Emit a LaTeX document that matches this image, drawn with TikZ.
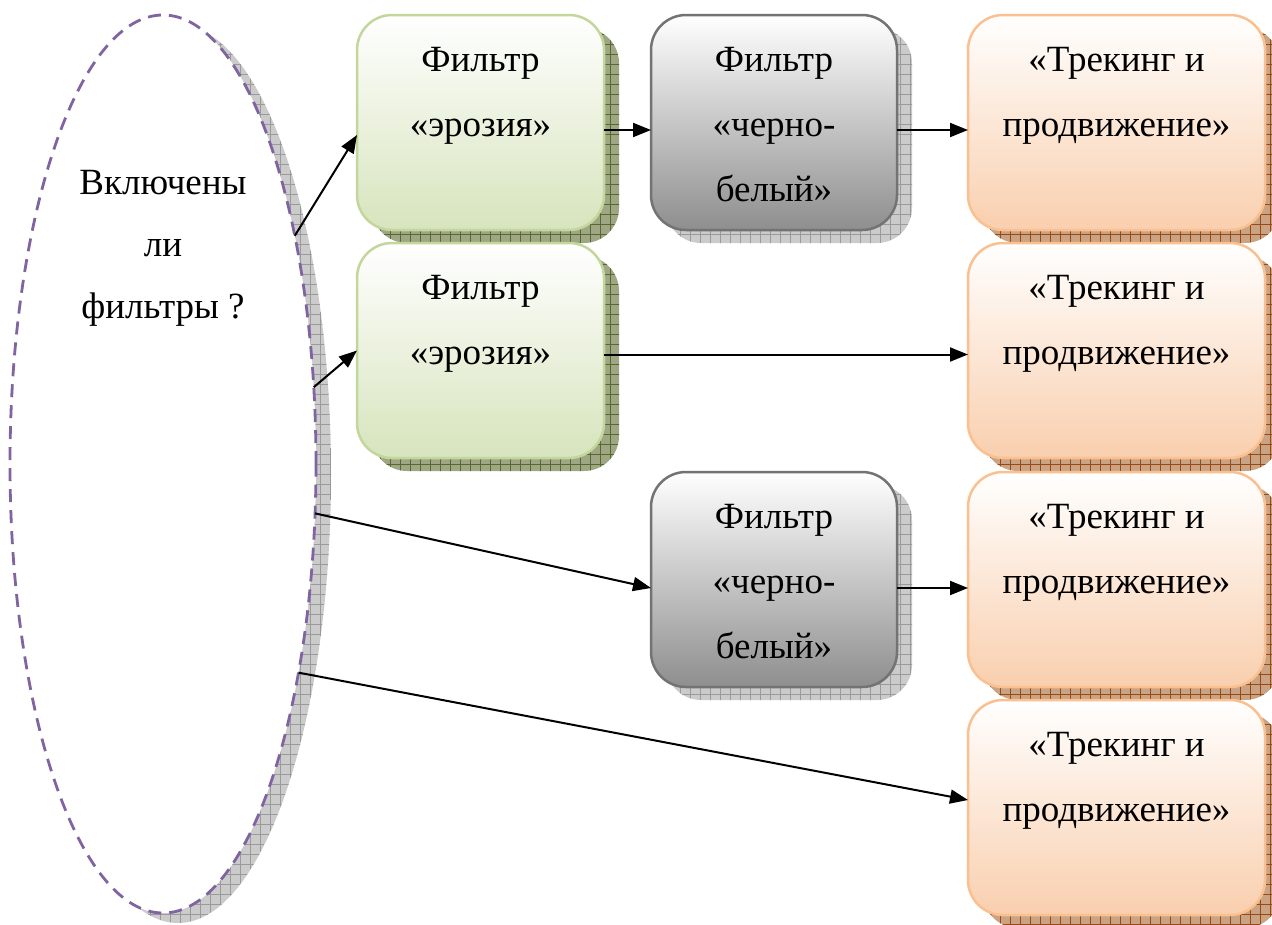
\documentclass[tikz,border=0pt]{standalone}
\usepackage{fontspec}
\setmainfont{Liberation Serif}
\usetikzlibrary{shapes.geometric,patterns.meta,arrows.meta,shadows}

\definecolor{grnfill}{HTML}{D7E4BD}
\definecolor{grnline}{HTML}{C3D69B}
\definecolor{gryfill}{HTML}{8E8E8E}
\definecolor{gryline}{HTML}{737373}
\definecolor{orgfill}{HTML}{F9CFAE}
\definecolor{orgline}{HTML}{FAC090}
\definecolor{purp}{HTML}{8064A2}
\definecolor{grnshbase}{HTML}{9EA684}
\definecolor{grnshgrid}{HTML}{566A30}
\definecolor{gryshbase}{HTML}{CBCBCB}
\definecolor{gryshgrid}{HTML}{9A9A9A}
\definecolor{orgshbase}{HTML}{C9A383}
\definecolor{orgshgrid}{HTML}{984A12}

% text of a box: top-aligned lines at double spacing
\newcommand\cellbox[2]{\parbox[c][215pt][t]{#1}{\centering
  \fontsize{37pt}{65pt}\selectfont\rule{0pt}{56pt}#2}}

\tikzset{
  gridshadow/.style 2 args={general shadow={shadow xshift=15pt, shadow yshift=-13pt,
      fill=#1, postaction={pattern={Hatch[angle=0,distance=10pt,line width=0.7pt]}, pattern color=#2}}},
  box/.style={rectangle, rounded corners=35pt, anchor=north west,
      inner sep=0pt, outer sep=0pt, line width=2.5pt},
  greenbox/.style={box, draw=grnline, top color=white, bottom color=grnfill,
      gridshadow={grnshbase}{grnshgrid}},
  graybox/.style={box, draw=gryline, top color=white, bottom color=gryfill,
      gridshadow={gryshbase}{gryshgrid}},
  orangebox/.style={box, draw=orgline, top color=white, bottom color=orgfill,
      gridshadow={orgshbase}{orgshgrid}},
  question/.style={ellipse, draw=purp, line width=2.8pt, dash pattern=on 13pt off 8pt,
      fill=white, minimum width=306pt, minimum height=898pt, inner sep=0pt, outer sep=0pt,
      general shadow={shadow xshift=15pt, shadow yshift=-10pt, fill=gryshbase,
        postaction={pattern={Hatch[angle=0,distance=10pt,line width=0.7pt]}, pattern color=gryshgrid}}},
  qtext/.style={align=center, font=\fontsize{37pt}{62pt}\selectfont},
  flow/.style={line width=2pt, -{Triangle[length=18pt,width=14pt]}},
}

\begin{document}
\begin{tikzpicture}[x=1pt,y=-1pt]
\useasboundingbox (0,0) rectangle (1272,924);

% decision ellipse and its question
\node[question] (q) at (163,464) {};
\node[qtext] (qt) at (163,248) {Включены\\ли\\фильтры ?};

% processing boxes
\node[greenbox]  (e1) at (357,15)  {\cellbox{247pt}{Фильтр\\«эрозия»}};
\node[graybox]   (b1) at (651,15)  {\cellbox{246pt}{Фильтр\\«черно-\\белый»}};
\node[orangebox] (t1) at (968,15)  {\cellbox{297pt}{«Трекинг и\\продвижение»}};
\node[greenbox]  (e2) at (357,243) {\cellbox{247pt}{Фильтр\\«эрозия»}};
\node[orangebox] (t2) at (968,243) {\cellbox{297pt}{«Трекинг и\\продвижение»}};
\node[graybox]   (b2) at (651,472) {\cellbox{246pt}{Фильтр\\«черно-\\белый»}};
\node[orangebox] (t3) at (968,472) {\cellbox{297pt}{«Трекинг и\\продвижение»}};
\node[orangebox] (t4) at (968,700) {\cellbox{297pt}{«Трекинг и\\продвижение»}};

% connectors
\draw[flow] (q.60.8) -- ([yshift=-12.5pt]e1.west);
\draw[flow] (q.27.5) -- (e2.west);
\draw[flow] ([yshift=-7.5pt]e1.east) -- ([yshift=-7.5pt]b1.west);
\draw[flow] ([yshift=-7.5pt]b1.east) -- ([yshift=-7.5pt]t1.west);
\draw[flow] ([yshift=-4pt]e2.east) -- ([yshift=-4pt]t2.west);
\draw[flow] (q.-18.8) -- ([yshift=-8.5pt]b2.west);
\draw[flow] ([yshift=-8.5pt]b2.east) -- ([yshift=-8.5pt]t3.west);
\draw[flow] (q.-57.5) -- ([yshift=7.5pt]t4.west);
\end{tikzpicture}
\end{document}
